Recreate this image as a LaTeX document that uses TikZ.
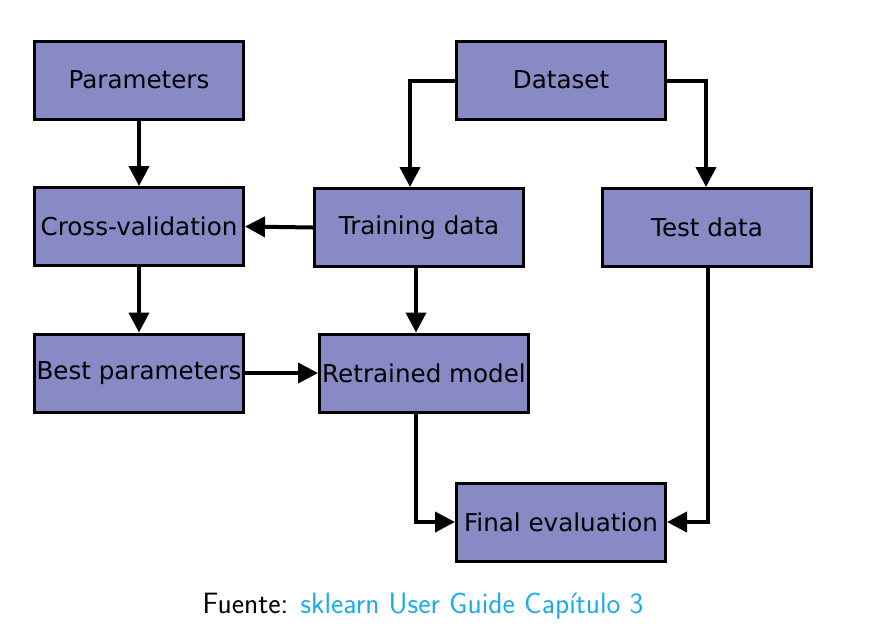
\documentclass[tikz,border=0pt]{standalone}
\usepackage{fontspec}
\newfontfamily\boxfont{DejaVu Sans}
\usetikzlibrary{arrows.meta}
\definecolor{boxfill}{RGB}{136,138,197}
\definecolor{linkcol}{RGB}{30,170,232}
\begin{document}
\begin{tikzpicture}[x=1pt,y=-1pt,
  blk/.style={draw=black,line width=3pt,fill=boxfill,minimum width=209pt,minimum height=78pt,inner sep=0pt,font=\boxfont\fontsize{24.6}{29}\selectfont},
  conn/.style={line width=4pt,-{Triangle[length=20pt,width=20pt]}}]
\useasboundingbox (0,0) rectangle (894,641);
\node[blk] (par) at (139,80) {Parameters};
\node[blk] (ds) at (561,80) {Dataset};
\node[blk] (cv) at (139,226.5) {Cross-validation};
\node[blk] (tr) at (419,227.5) {Training data};
\node[blk] (te) at (707,227.5) {Test data};
\node[blk] (bp) at (139,373) {Best parameters};
\node[blk] (rm) at (424,373) {Retrained model};
\node[blk] (fe) at (561,522) {Final evaluation};
\coordinate (c1) at (410,81);
\coordinate (c2) at (706,81);
\coordinate (c3) at (416,522);
\coordinate (c4) at (708,522);
\draw[conn] (par.south) -- (cv.north);
\draw[conn] (ds.west |- c1) -- (c1) -- (c1 |- tr.north);
\draw[conn] (ds.east |- c2) -- (c2) -- (c2 |- te.north);
\draw[conn] (tr.west) -- (cv.east);
\draw[conn] (cv.south) -- (bp.north);
\draw[conn] (tr.south -| c3) -- (c3 |- rm.north);
\draw[conn] (bp.east) -- (rm.west);
\draw[conn] (rm.south -| c3) -- (c3) -- (fe.west);
\draw[conn] (te.south -| c4) -- (c4) -- (fe.east);
\node[font=\sffamily\fontsize{29.4}{34}\selectfont,inner sep=0pt] (cap) at (423,606) {Fuente: \textcolor{linkcol}{sklearn User Guide Capítulo 3}};
\end{tikzpicture}
\end{document}
